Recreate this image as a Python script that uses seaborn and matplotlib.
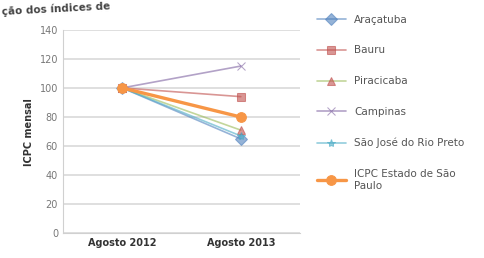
import pandas as pd
import matplotlib
matplotlib.use("Agg")
import matplotlib.pyplot as plt
import seaborn as sns

# data (Agosto 2012 -> Agosto 2013)
periodos = ["Agosto 2012", "Agosto 2013"]
cidades = ["Araçatuba", "Bauru", "Piracicaba", "Campinas",
           "São José do Rio Preto", "ICPC Estado de São\nPaulo"]
aracatuba = [100, 65]
bauru = [100, 94]
piracicaba = [100, 71]
campinas = [100, 115]
sao_jose = [100, 67]
icpc_sp = [100, 80]

valores = [aracatuba, bauru, piracicaba, campinas, sao_jose, icpc_sp]
cores = ["#4F81BD", "#C0504D", "#9BBB59", "#8064A2", "#4BACC6", "#F79646"]
marcadores = ["D", "s", "^", "x", "*", "o"]
cores_marc = ["#4F81BD", "#C0504D", "#C0504D", "#8064A2", "#4BACC6", "#F79646"]

df = pd.DataFrame({
    "periodo": periodos * len(cidades),
    "cidade": [c for c in cidades for _ in periodos],
    "valor": [v for serie in valores for v in serie],
})

sns.set_style("white")
plt.rcParams["font.family"] = ["DejaVu Sans"]

fig = plt.figure(figsize=(4.84, 2.58), dpi=100)
ax = fig.add_axes([0.13, 0.095, 0.49, 0.79])

for cidade, cor, mk, cm in zip(cidades, cores, marcadores, cores_marc):
    sub = df[df["cidade"] == cidade]
    grosso = cidade.startswith("ICPC")
    sns.lineplot(data=sub, x="periodo", y="valor", ax=ax, color=cor,
                 marker=mk, markersize=7 if grosso else 6,
                 markerfacecolor=cm, markeredgecolor=cm,
                 linewidth=2.4 if grosso else 1.2,
                 alpha=1.0 if grosso else 0.6, label=cidade)

ax.set_xlim(-0.5, 1.5)
ax.set_ylim(0, 140)
ax.set_yticks(range(0, 141, 20))
ax.yaxis.grid(True, color="#D9D9D9", linewidth=1.2)
ax.xaxis.grid(False)
for s in ["top", "right"]:
    ax.spines[s].set_visible(False)
ax.spines["left"].set_color("#D0D0D0")
ax.spines["bottom"].set_color("#D0D0D0")
ax.tick_params(axis="y", labelsize=7, colors="#777777", length=0)
ax.tick_params(axis="x", labelsize=7, colors="#333333", length=0)
for t in ax.get_xticklabels():
    t.set_fontweight("bold")
ax.set_xlabel("")
ax.set_ylabel("ICPC mensal", fontsize=7, fontweight="bold", color="#333333")

leg = ax.legend(loc="upper left", bbox_to_anchor=(1.03, 1.12), frameon=False,
                fontsize=7.5, labelspacing=2.0, handlelength=2.8,
                labelcolor="#555555")

# visible part of the cut-off title of the original screenshot
fig.text(0.003, 0.995, "ção dos índices de", fontsize=7.5,
         fontweight="bold", color="#444444", ha="left", va="top", rotation=3)

fig.savefig("out.png", dpi=100)
